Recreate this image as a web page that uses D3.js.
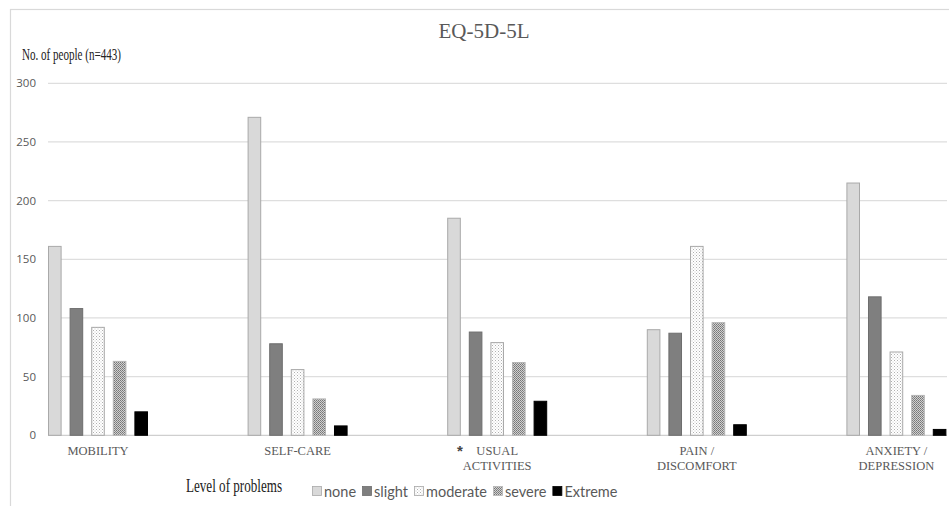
<!DOCTYPE html>
<html>
<head>
<meta charset="utf-8">
<script src="https://cdn.jsdelivr.net/npm/d3@7/dist/d3.min.js"></script>
<style>
  html, body { margin: 0; padding: 0; background: #fff; }
  svg { display: block; }
</style>
</head>
<body>
<svg id="chart" width="949" height="506"></svg>
<script>
// EQ-5D-5L dimension labels (one array per text line)
const categories = ["MOBILITY", "SELF-CARE", "USUAL ACTIVITIES", "PAIN / DISCOMFORT", "ANXIETY / DEPRESSION"];
const categoryLines = [["MOBILITY"], ["SELF-CARE"], ["USUAL", "ACTIVITIES"], ["PAIN /", "DISCOMFORT"], ["ANXIETY /", "DEPRESSION"]];
const levels = ["none", "slight", "moderate", "severe", "Extreme"];

// Number of people reporting each level, per dimension
const noneValues     = [161, 271, 185, 90, 215];
const slightValues   = [108, 78, 88, 87, 118];
const moderateValues = [92, 56, 79, 161, 71];
const severeValues   = [63, 31, 62, 96, 34];
const extremeValues  = [20, 8, 29, 9, 5];

const yTicks = [0, 50, 100, 150, 200, 250, 300];

const seriesValues = [noneValues, slightValues, moderateValues, severeValues, extremeValues];
const rows = [];
categories.forEach((c, ci) => levels.forEach((l, li) => rows.push({ category: c, level: l, value: seriesValues[li][ci] })));

const svg = d3.select("#chart");
const defs = svg.append("defs");

// fine light stipple for "moderate"
const pMod = defs.append("pattern").attr("id", "pat-moderate").attr("width", 3).attr("height", 3).attr("patternUnits", "userSpaceOnUse");
pMod.append("rect").attr("width", 3).attr("height", 3).attr("fill", "#ffffff");
pMod.append("rect").attr("x", 0).attr("y", 0).attr("width", 1).attr("height", 1).attr("fill", "#b0b0b0");
pMod.append("rect").attr("x", 1.5).attr("y", 1.5).attr("width", 1).attr("height", 1).attr("fill", "#cacaca");

// dense checker for "severe"
const pSev = defs.append("pattern").attr("id", "pat-severe").attr("width", 2).attr("height", 2).attr("patternUnits", "userSpaceOnUse");
pSev.append("rect").attr("width", 2).attr("height", 2).attr("fill", "#d0d0d0");
pSev.append("rect").attr("x", 0).attr("y", 0).attr("width", 1).attr("height", 1).attr("fill", "#767676");
pSev.append("rect").attr("x", 1).attr("y", 1).attr("width", 1).attr("height", 1).attr("fill", "#868686");

const fills = { none: "#d9d9d9", slight: "#7f7f7f", moderate: "url(#pat-moderate)", severe: "url(#pat-severe)", Extreme: "#000000" };
const strokes = { none: "#a9a9a9", slight: "#6e6e6e", moderate: "#a9a9a9", severe: "#b5b5b5", Extreme: "#000000" };

const plotLeft = 48, plotRight = 947;
const y = d3.scaleLinear().domain([0, 300]).range([435.3, 83.3]);
const x0 = d3.scaleBand().domain(categories).range([-1.8, 996.2]).padding(0);
const x1 = d3.scaleBand().domain(levels).range([49.8, 149.8]).paddingInner(0.37).paddingOuter(0);

// outer frame
svg.append("rect").attr("x", 10.5).attr("y", 9.5).attr("width", 980).attr("height", 540)
  .attr("fill", "none").attr("stroke", "#d9d9d9").attr("stroke-width", 1.2);

// title
svg.append("text").attr("x", 484).attr("y", 38).attr("text-anchor", "middle")
  .attr("font-family", "Liberation Serif, serif").attr("font-size", 21).attr("fill", "#595959")
  .text("EQ-5D-5L");

// y axis title
svg.append("text").attr("x", 22).attr("y", 60)
  .attr("font-family", "Liberation Serif, serif").attr("font-size", 16).attr("fill", "#222")
  .attr("textLength", 99).attr("lengthAdjust", "spacingAndGlyphs")
  .text("No. of people (n=443)");

// gridlines
svg.append("g").selectAll("line").data(yTicks).join("line")
  .attr("x1", plotLeft).attr("x2", plotRight)
  .attr("y1", d => y(d)).attr("y2", d => y(d))
  .attr("stroke", d => d === 0 ? "#cfcfcf" : "#dedede").attr("stroke-width", 1.3);

// y tick labels
svg.append("g").selectAll("text").data(yTicks).join("text")
  .attr("x", 36).attr("y", d => y(d) + 4)
  .attr("text-anchor", "end")
  .attr("font-family", "Open Sans, sans-serif").attr("font-size", 11.5).attr("fill", "#595959")
  .text(d => d);

// bars
svg.append("g").selectAll("rect").data(rows).join("rect")
  .attr("x", d => x0(d.category) + x1(d.level) + 0.5)
  .attr("y", d => y(d.value))
  .attr("width", x1.bandwidth() - 1)
  .attr("height", d => y(0) - y(d.value))
  .attr("fill", d => fills[d.level])
  .attr("stroke", d => strokes[d.level]).attr("stroke-width", 1);

// category labels
const catG = svg.append("g");
categories.forEach((c, i) => {
  const t = catG.append("text")
    .attr("x", x0(c) + x0.bandwidth() / 2).attr("y", 455)
    .attr("text-anchor", "middle")
    .attr("font-family", "Liberation Serif, serif").attr("font-size", 12.5).attr("fill", "#595959");
  categoryLines[i].forEach((line, k) => {
    t.append("tspan").attr("x", x0(c) + x0.bandwidth() / 2).attr("dy", k === 0 ? 0 : 14.5).text(line);
  });
});

// significance marker
svg.append("text").attr("x", 460).attr("y", 456).attr("text-anchor", "middle")
  .attr("font-family", "Liberation Sans, sans-serif").attr("font-size", 15).attr("font-weight", "bold").attr("fill", "#444")
  .text("*");

// x axis title
svg.append("text").attr("x", 186).attr("y", 492)
  .attr("font-family", "Liberation Serif, serif").attr("font-size", 19).attr("fill", "#222")
  .attr("textLength", 96).attr("lengthAdjust", "spacingAndGlyphs")
  .text("Level of problems");

// legend: swatch + label, laid out left to right
const legend = svg.append("g");
let lx = 312;
levels.forEach(l => {
  legend.append("rect").attr("x", lx + 0.5).attr("y", 486.5).attr("width", 9).attr("height", 9)
    .attr("fill", fills[l]).attr("stroke", strokes[l]).attr("stroke-width", 0.8);
  const t = legend.append("text").attr("x", lx + 12).attr("y", 496.5)
    .attr("font-family", "Lato, sans-serif").attr("font-size", 14.5).attr("fill", "#595959")
    .text(l);
  lx += 12 + t.node().getComputedTextLength() + 6;
});
</script>
</body>
</html>
